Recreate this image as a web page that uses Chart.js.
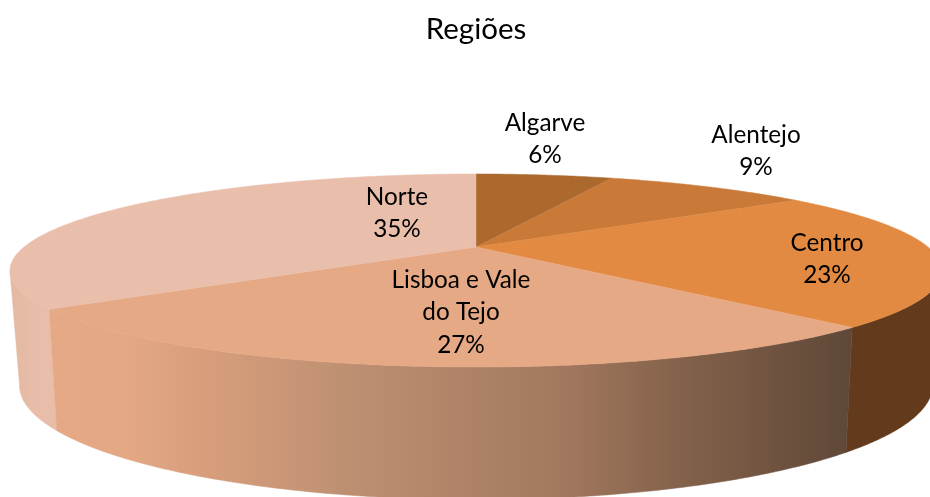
<!DOCTYPE html>
<html><head><meta charset="utf-8">
<style>html,body{margin:0;padding:0;background:#fff}canvas{display:block}</style>
<script src="https://cdn.jsdelivr.net/npm/chart.js@4/dist/chart.umd.min.js"></script>
</head><body>
<canvas id="c" width="930" height="497"></canvas>
<script>
const categories = ['Algarve', 'Alentejo', 'Centro', 'Lisboa e Vale do Tejo', 'Norte'];
const shares = [6, 9, 23, 27, 35];
const faceColours = ['#AB692E', '#C97A38', '#E38A42', '#E6A985', '#E9BFAC'];

const labelLines = [['Algarve','6%'],['Alentejo','9%'],['Centro','23%'],['Lisboa e Vale','do Tejo','27%'],['Norte','35%']];
const labelSpots = [[545,123],[756,135],[827,243],[461,280],[397,197]];
const LINE = 32.5;

// perspective of the top and bottom planes of the disc
const TOP = {a:452, b:90.8, k:0.2435, dy:0};
const BOT = {a:442, b:107, k:0.25, dy:110};
function project(p, cx, cy, t){
  const s=Math.sin(t), c=Math.cos(t), w=1+p.k*c;
  return [cx+p.a*s/w, cy+p.dy-p.b*c/w];
}
function trace(ctx,p,cx,cy,a,b,first){
  const n=Math.max(2,Math.ceil(Math.abs(b-a)/0.01));
  for(let i=0;i<=n;i++){
    const q=project(p,cx,cy,a+(b-a)*i/n);
    if(i===0&&first) ctx.moveTo(q[0],q[1]); else ctx.lineTo(q[0],q[1]);
  }
}
const FRONT_A=Math.PI-Math.asin(Math.sqrt(1-TOP.k*TOP.k));
const FRONT_B=Math.PI+Math.asin(Math.sqrt(1-TOP.k*TOP.k));

function wallFill(ctx,i){
  if(i===3){
    const g=ctx.createLinearGradient(50,0,850,0);
    g.addColorStop(0,'#E6A985');g.addColorStop(0.1,'#E3A784');g.addColorStop(0.19,'#D89E7C');
    g.addColorStop(0.36,'#BF9173');g.addColorStop(0.64,'#A3785F');g.addColorStop(0.79,'#83614A');
    g.addColorStop(1,'#5F4838');
    return g;
  }
  if(i===4){
    const g=ctx.createLinearGradient(10,0,40,0);
    g.addColorStop(0,'#E4B8A2');g.addColorStop(1,'#E8BEAA');
    return g;
  }
  return '#633A1B';
}

const pie3d={
  id:'pie3d',
  beforeDatasetDraw(chart){
    const ctx=chart.ctx, els=chart.getDatasetMeta(0).data;
    const cx=els[0].x, cy=els[0].y;
    const ang=els.map(e=>[e.startAngle+Math.PI/2,e.endAngle+Math.PI/2]);
    ctx.save();
    [4,2,3].forEach(i=>{
      const a=Math.max(ang[i][0],FRONT_A), b=Math.min(ang[i][1],FRONT_B);
      if(b<=a) return;
      ctx.beginPath();
      trace(ctx,TOP,cx,cy,a,b,true);
      trace(ctx,BOT,cx,cy,b,a,false);
      ctx.closePath();
      const f=wallFill(ctx,i);
      ctx.fillStyle=f;ctx.strokeStyle=f;ctx.lineWidth=0.5;
      ctx.fill();ctx.stroke();
    });
    els.forEach((e,i)=>{
      ctx.beginPath();
      ctx.moveTo(cx,cy);
      trace(ctx,TOP,cx,cy,ang[i][0],ang[i][1],false);
      ctx.closePath();
      ctx.fillStyle=faceColours[i];
      ctx.strokeStyle=faceColours[i];
      ctx.lineWidth=0.5;
      ctx.fill();ctx.stroke();
    });
    ctx.restore();
    return false;
  },
  afterDatasetsDraw(chart){
    const ctx=chart.ctx;
    ctx.save();
    ctx.fillStyle='#000';
    ctx.font='24.3px Lato';
    ctx.textAlign='center';ctx.textBaseline='middle';
    labelLines.forEach((ls,i)=>ls.forEach((t,j)=>
      ctx.fillText(t,labelSpots[i][0],labelSpots[i][1]+j*LINE)));
    ctx.restore();
  }
};

new Chart(document.getElementById('c'),{
  type:'pie',
  data:{labels:categories,datasets:[{data:shares,backgroundColor:faceColours,borderWidth:0}]},
  options:{
    responsive:false,animation:false,
    layout:{padding:{left:22,bottom:51.4}},
    plugins:{
      legend:{display:false},tooltip:{enabled:false},
      title:{display:true,text:'Regiões',color:'#000',
        font:{family:'Lato',size:29.5,weight:'normal'},padding:{top:12,bottom:1}}
    }
  },
  plugins:[pie3d]
});
</script>
</body></html>
